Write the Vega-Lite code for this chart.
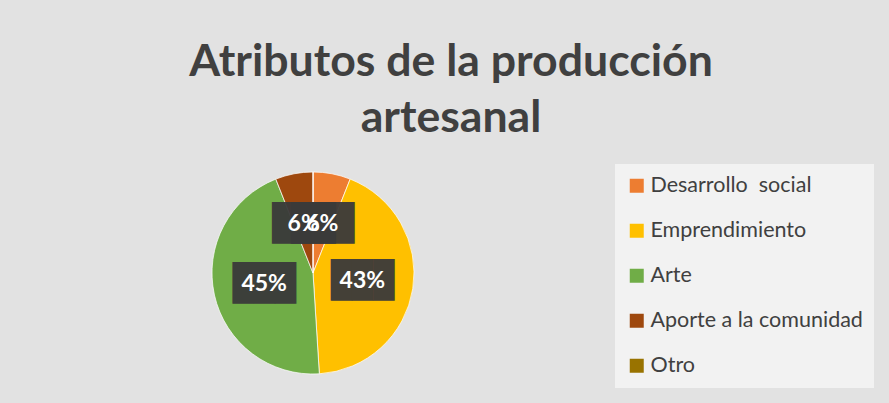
{
  "$schema": "https://vega.github.io/schema/vega-lite/v6.json",
  "autosize": "none",
  "width": 626,
  "height": 260,
  "padding": {"left": 0, "top": 143, "right": 263, "bottom": 0},
  "background": "#e2e2e2",
  "config": {"view": {"stroke": null}},
  "title": {
    "text": ["Atributos de la producción", "artesanal"],
    "font": "Lato",
    "fontWeight": "bold",
    "fontSize": 44.6,
    "lineHeight": 56,
    "color": "#404040",
    "anchor": "middle",
    "dx": 138,
    "offset": 1
  },
  "data": {
    "values": [
      {"categoria": "Desarrollo\u00a0 social", "valor": 6, "orden": 1},
      {"categoria": "Emprendimiento", "valor": 43, "orden": 2},
      {"categoria": "Arte", "valor": 45, "orden": 3},
      {"categoria": "Aporte a la comunidad", "valor": 6, "orden": 4},
      {"categoria": "Otro", "valor": 0, "orden": 5}
    ]
  },
  "encoding": {
    "theta": {"field": "valor", "type": "quantitative", "stack": true},
    "order": {"field": "orden", "type": "quantitative"}
  },
  "layer": [
    {
      "mark": {"type": "arc", "outerRadius": 101, "stroke": "#ffffff", "strokeWidth": 0.7},
      "encoding": {
        "color": {
          "field": "categoria",
          "type": "nominal",
          "sort": ["Desarrollo\u00a0 social", "Emprendimiento", "Arte", "Aporte a la comunidad", "Otro"],
          "scale": {"range": ["#ED7D31", "#FFC000", "#70AD47", "#9E480E", "#997300"]},
          "legend": {
            "title": null,
            "orient": "none",
            "legendX": 615,
            "legendY": 21,
            "fillColor": "#f2f2f2",
            "padding": 11,
            "symbolType": "square",
            "symbolSize": 196,
            "symbolStrokeWidth": 0,
            "labelFont": "Lato",
            "labelFontSize": 21.5,
            "labelColor": "#404040",
            "labelOffset": 3,
            "rowPadding": 22,
            "labelLimit": 300
          }
        }
      }
    },
    {
      "transform": [{"filter": "datum.valor > 0"}],
      "mark": {"type": "text", "radius": 50, "font": "DejaVu Sans Mono", "fontSize": 35, "color": "#3a3a3a", "baseline": "middle", "align": "center", "opacity": 0.95},
      "encoding": {
        "text": {"value": "███"}
      }
    },
    {
      "transform": [{"filter": "datum.valor > 0"}, {"calculate": "datum.valor + '%'", "as": "etiqueta"}],
      "mark": {"type": "text", "radius": 50, "font": "Lato", "fontWeight": "bold", "fontSize": 23, "color": "#ffffff", "baseline": "middle", "align": "center"},
      "encoding": {
        "text": {"field": "etiqueta", "type": "nominal"}
      }
    }
  ]
}
